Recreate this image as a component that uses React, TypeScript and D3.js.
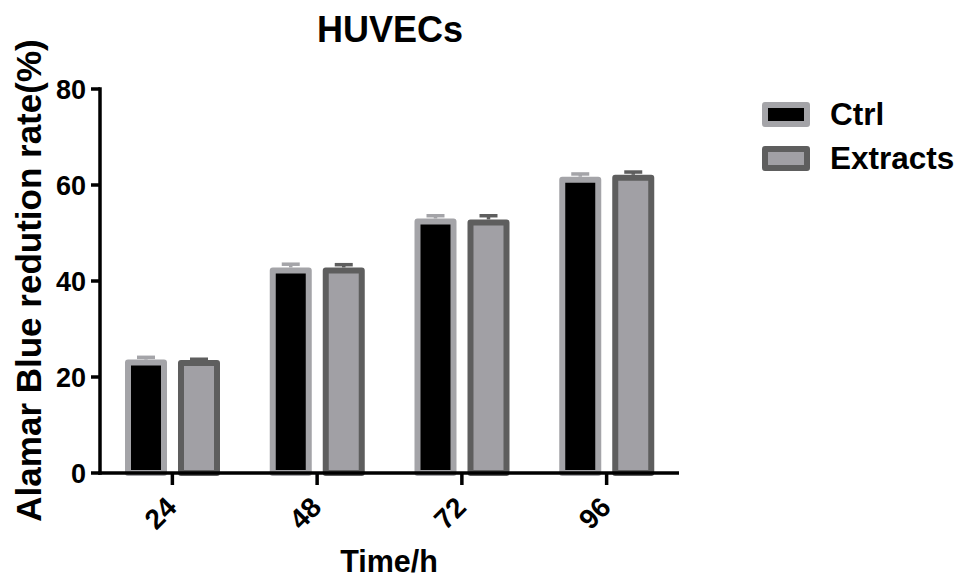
import React from "react";
import * as d3 from "d3";

const categories = ["24", "48", "72", "96"];
const seriesNames = ["Ctrl", "Extracts"];
const ctrlMeans = [23.0, 42.2, 52.4, 61.1];
const ctrlErr = [1.1, 1.3, 1.2, 1.2];
const extMeans = [22.9, 42.2, 52.2, 61.5];
const extErr = [0.8, 1.2, 1.4, 1.2];
const yTicks = [0, 20, 40, 60, 80];

const W = 969;
const H = 579;
const FONT = "'Liberation Sans', Arial, Helvetica, sans-serif";

const styles = [
  { fill: "#000000", stroke: "#a4a4a8" },
  { fill: "#a1a0a5", stroke: "#5e5e5e" },
];

export default function App() {
  const x0 = d3.scaleBand<string>().domain(categories).range([100, 679]).padding(0);
  const x1 = d3.scaleBand<string>().domain(seriesNames).range([25, 120]).paddingInner(0.2075).paddingOuter(0);
  const y = d3.scaleLinear().domain([0, 80]).range([473, 89]);
  const sw = 6;

  const series = [
    { name: "Ctrl", means: ctrlMeans, errs: ctrlErr },
    { name: "Extracts", means: extMeans, errs: extErr },
  ];

  return (
    <svg width={W} height={H} style={{ position: "absolute", left: 0, top: 0, background: "#fff" }} fontFamily={FONT}>
      <text x={390} y={42} textAnchor="middle" fontSize={36} fontWeight="bold">HUVECs</text>

      {series.map((s, si) => (
        <g key={s.name}>
          {categories.map((c, i) => {
            const gx = (x0(c) as number) + (x1(s.name) as number);
            const bw = x1.bandwidth();
            const v = s.means[i];
            const e = s.errs[i];
            const cx = gx + bw / 2;
            return (
              <g key={c}>
                <line x1={cx} x2={cx} y1={y(v) - sw / 2} y2={y(v + e)} stroke={styles[si].stroke} strokeWidth={3.5} />
                <line x1={cx - 9} x2={cx + 9} y1={y(v + e)} y2={y(v + e)} stroke={styles[si].stroke} strokeWidth={3.5} />
                <rect
                  x={gx + sw / 2}
                  y={y(v)}
                  width={bw - sw}
                  height={y(0) - y(v)}
                  fill={styles[si].fill}
                  stroke={styles[si].stroke}
                  strokeWidth={sw}
                  strokeLinejoin="round"
                />
              </g>
            );
          })}
        </g>
      ))}

      {/* y axis */}
      <line x1={100} x2={100} y1={y(80) - 1.75} y2={y(0) + 1.75} stroke="#000" strokeWidth={3.5} />
      {yTicks.map((t) => (
        <g key={t}>
          <line x1={91} x2={100} y1={y(t)} y2={y(t)} stroke="#000" strokeWidth={3.5} />
          <text x={86} y={y(t)} dy="0.36em" textAnchor="end" fontSize={27} fontWeight="bold">{t}</text>
        </g>
      ))}

      {/* x axis */}
      <line x1={98.25} x2={679} y1={y(0)} y2={y(0)} stroke="#000" strokeWidth={3.5} />
      {categories.map((c) => {
        const cx = (x0(c) as number) + x0.bandwidth() / 2;
        return (
          <g key={c}>
            <line x1={cx} x2={cx} y1={y(0)} y2={y(0) + 12} stroke="#000" strokeWidth={3.5} />
            <text transform={`translate(${cx + 6},${y(0) + 36}) rotate(-45)`} textAnchor="end" fontSize={28} fontWeight="bold">{c}</text>
          </g>
        );
      })}

      <text x={389} y={572} textAnchor="middle" fontSize={30.5} fontWeight="bold">Time/h</text>
      <text transform={`translate(41,280.5) rotate(-90)`} textAnchor="middle" fontSize={35} fontWeight="bold">Alamar Blue redution rate(%)</text>

      {/* legend */}
      {seriesNames.map((n, i) => (
        <g key={n}>
          <rect x={765} y={105 + i * 44} width={42} height={19} fill={styles[i].fill} stroke={styles[i].stroke} strokeWidth={sw} strokeLinejoin="round" />
          <text x={830} y={125 + i * 43.5} fontSize={31.5} fontWeight="bold">{n}</text>
        </g>
      ))}
    </svg>
  );
}
